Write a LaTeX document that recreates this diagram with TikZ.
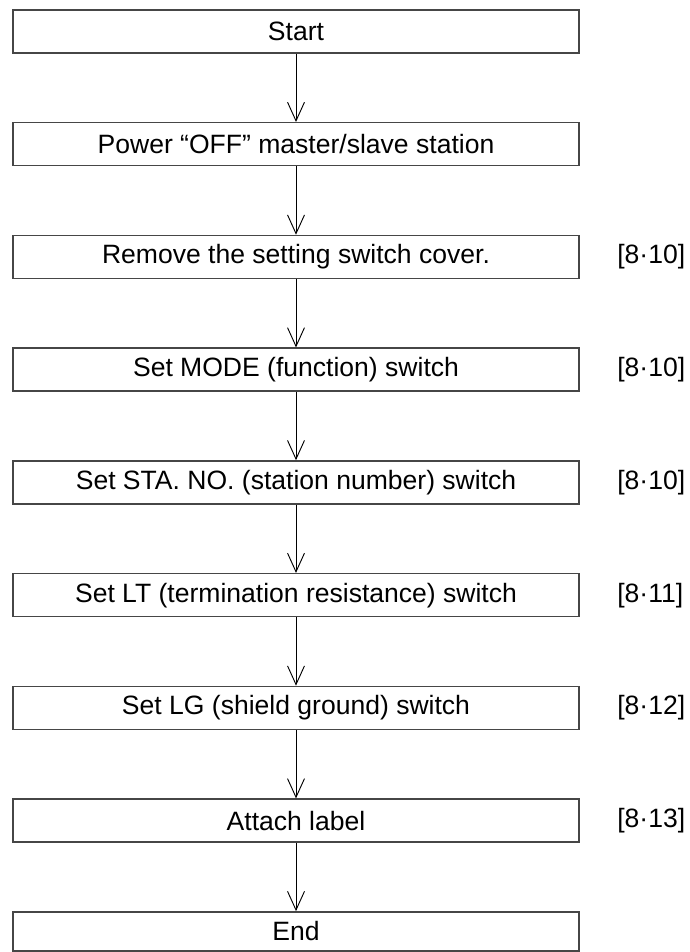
\documentclass[tikz,border=0pt]{standalone}
\usepackage{fontspec}
\setmainfont{Liberation Sans}
\usetikzlibrary{arrows.meta, positioning}
\definecolor{boxgray}{RGB}{70, 70, 70}

\begin{document}
\begin{tikzpicture}[x=0.75pt, y=-0.75pt,
				stepbox/.style={draw=boxgray, line width=1.1pt, minimum width=424.5pt,
					minimum height=32.25pt, inner sep=0pt, align=center,
					font=\fontsize{19.9}{24}\selectfont},
				reflabel/.style={anchor=west, inner sep=0pt,
					font=\fontsize{19.9}{24}\selectfont},
				arr/.style={-{Straight Barb[length=14pt, width=12.7pt]}, line width=0.7pt},
				node distance=51.2pt
				]
				\useasboundingbox (0,0) rectangle (689,952);
				\node[stepbox] (start) at (296, 31.5) {Start};
				\node[stepbox, below=of start] (power) {Power “OFF” master/slave station};
				\node[stepbox, below=of power] (cover) {Remove the setting switch cover.};
				\node[stepbox, below=of cover] (mode) {Set MODE (function) switch};
				\node[stepbox, below=of mode] (stano) {Set STA. NO. (station number) switch};
				\node[stepbox, below=of stano] (lt) {Set LT (termination resistance) switch};
				\node[stepbox, below=of lt] (lg) {Set LG (shield ground) switch};
				\node[stepbox, below=of lg] (attach) {Attach label};
				\node[stepbox, below=of attach, minimum height=29.2pt] (finish) {End};
				% references to the manual sections
				\node[reflabel, right=28pt of cover] (cover-ref) {[8·10]};
				\node[reflabel, right=28pt of mode] (mode-ref) {[8·10]};
				\node[reflabel, right=28pt of stano] (stano-ref) {[8·10]};
				\node[reflabel, right=28pt of lt] (lt-ref) {[8·11]};
				\node[reflabel, right=28pt of lg] (lg-ref) {[8·12]};
				\node[reflabel, right=28pt of attach] (attach-ref) {[8·13]};
				\draw[arr] (start) -- (power);
				\draw[arr] (power) -- (cover);
				\draw[arr] (cover) -- (mode);
				\draw[arr] (mode) -- (stano);
				\draw[arr] (stano) -- (lt);
				\draw[arr] (lt) -- (lg);
				\draw[arr] (lg) -- (attach);
				\draw[arr] (attach) -- (finish);
			\end{tikzpicture}
\end{document}
